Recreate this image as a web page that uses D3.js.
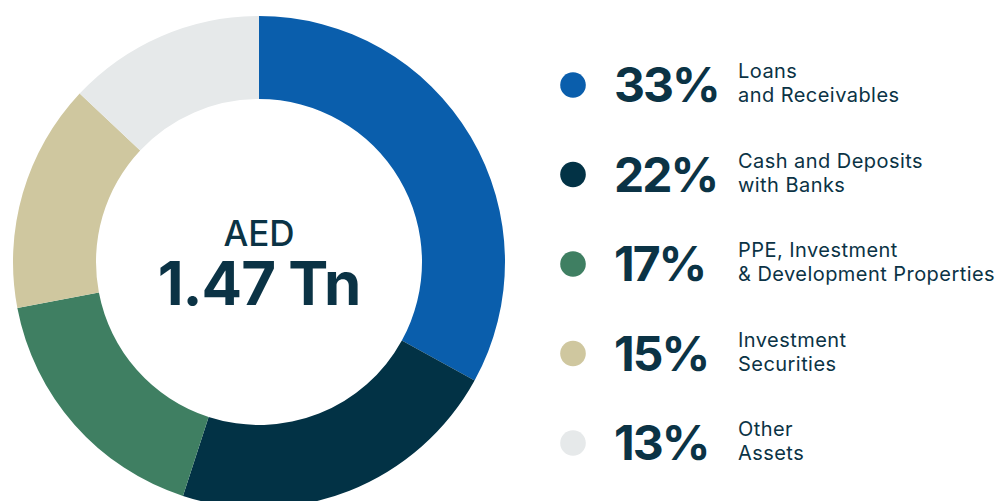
<!DOCTYPE html>
<html>
<head>
<meta charset="utf-8">
<script src="https://cdn.jsdelivr.net/npm/d3@7/dist/d3.min.js"></script>
<style>
  html, body { margin: 0; padding: 0; background: #fff; }
  svg { display: block; font-family: Inter, "Noto Sans", sans-serif; }
</style>
</head>
<body>
<svg id="chart" width="1002" height="501"></svg>
<script>
// Asset composition (share of total, %)
const categories = [
  "Loans and Receivables",
  "Cash and Deposits with Banks",
  "PPE, Investment & Development Properties",
  "Investment Securities",
  "Other Assets"
];
const values = [33, 22, 17, 15, 13];
const labelLines = [
  ["Loans", "and Receivables"],
  ["Cash and Deposits", "with Banks"],
  ["PPE, Investment", "& Development Properties"],
  ["Investment", "Securities"],
  ["Other", "Assets"]
];
const colors = ["#0A5EAC", "#023245", "#3F7F62", "#CFC79F", "#E6E9EA"];
const totalLabel = ["AED", "1.47 Tn"];

const textColor = "#0B3345";
const svg = d3.select("#chart");

// Donut
const cx = 259, cy = 262, outerR = 246, innerR = 163;
const pie = d3.pie().sort(null).value(d => d.value);
const arc = d3.arc().innerRadius(innerR).outerRadius(outerR);
const data = categories.map((c, i) => ({ name: c, value: values[i] }));
const color = d3.scaleOrdinal().domain(categories).range(colors);

const g = svg.append("g").attr("transform", `translate(${cx},${cy})`);
g.selectAll("path")
  .data(pie(data))
  .join("path")
  .attr("d", arc)
  .attr("fill", d => color(d.data.name));

// Total in the hole
g.append("text")
  .attr("x", 0).attr("y", -16)
  .attr("text-anchor", "middle")
  .attr("font-size", 35).attr("font-weight", 500)
  .attr("fill", textColor)
  .text(totalLabel[0]);
g.append("text")
  .attr("x", 0).attr("y", 43)
  .attr("text-anchor", "middle")
  .attr("font-size", 60).attr("font-weight", 700)
  .attr("fill", textColor)
  .attr("letter-spacing", -1)
  .text(totalLabel[1]);

// Legend
const rowY = d3.scalePoint().domain(categories).range([85, 443]);
const legend = svg.append("g");
const rows = legend.selectAll("g.row")
  .data(data)
  .join("g")
  .attr("class", "row")
  .attr("transform", d => `translate(0,${rowY(d.name)})`);

rows.append("circle")
  .attr("cx", 573).attr("cy", 0).attr("r", 12.8)
  .attr("fill", d => color(d.name));

rows.append("text")
  .attr("x", 614).attr("y", 17)
  .attr("font-size", 48).attr("font-weight", 700)
  .attr("letter-spacing", -2)
  .attr("fill", textColor)
  .text(d => d.value + "%");

rows.each(function(d, i) {
  const t = d3.select(this).append("text")
    .attr("font-size", 20).attr("font-weight", 400)
    .attr("letter-spacing", 0.45)
    .attr("fill", textColor);
  labelLines[i].forEach((line, j) => {
    t.append("tspan").attr("x", 738).attr("y", -7 + j * 24).text(line);
  });
});
</script>
</body>
</html>
